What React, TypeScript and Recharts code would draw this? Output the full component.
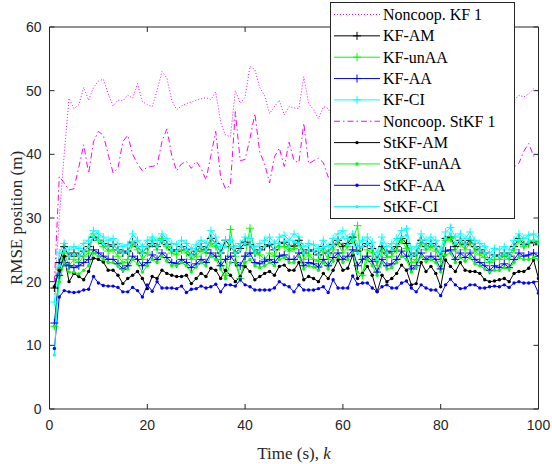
import { LineChart, Line, XAxis, YAxis, Legend } from "recharts";

// time steps k = 1..100
const steps = Array.from({ length: 100 }, (_, i) => i + 1);
const xTicks = [0, 20, 40, 60, 80, 100];
const yTicks = [0, 10, 20, 30, 40, 50, 60];

const noncoopKF = [
  18, 30, 40, 48.8, 47.2, 47.8, 50.5, 48.5, 50.5, 51.5,
  51.8, 49.5, 47.6, 48.5, 48.4, 49.3, 48.8, 51.1, 48.3, 47.8,
  47.5, 50, 53, 52, 48.5, 47, 47.6, 48, 48.2, 48.5,
  48.7, 48.9, 48.6, 49.8, 45, 43, 42.8, 50, 48, 49,
  53.8, 53.3, 50.5, 49.2, 46.4, 47.5, 48.5, 46.2, 47.5, 47.3,
  47.2, 52.2, 48, 47, 45.6, 47.5, 47.2, 45.5, 48, 47,
  50.5, 52, 49, 48, 47.5, 49, 48.5, 47, 49.5, 50.5,
  48, 47.5, 49, 51, 48.5, 47, 48.5, 50, 48.5, 47.5,
  49, 52, 50, 48, 47.5, 49, 48, 46.5, 48.5, 50,
  49, 47.5, 48.5, 50, 48.5, 49.3, 49, 49.5, 50.3, 49.8,
];
const kfAM = [
  19, 23, 25.5, 24, 24.5, 24, 24.8, 25.5, 27, 26.5,
  26, 25.5, 25.8, 25, 24.5, 24.8, 26.2, 25.5, 24.5, 25.5,
  26, 25.5, 26.5, 25.8, 25, 24.8, 25.5, 25, 24.2, 24.8,
  25.5, 25, 26.8, 26, 24.5, 26.5, 25.5, 24.5, 25.2, 26.2,
  25.8, 24.5, 25, 25.5, 25.8, 25, 26, 26.2, 25.5, 25.6,
  26.5, 24.5, 25, 24.8, 24.2, 25.5, 24.5, 25.8, 26.5, 25.5,
  26, 27, 24.8, 25.5, 26, 25.2, 23.5, 25.5, 24.5, 24.8,
  25.5, 26.8, 26, 24, 24.5, 26.5, 25.5, 26, 25.5, 24,
  26.8, 27, 25.5, 26.5, 25.8, 26.5, 25.5, 25, 24.5, 23.5,
  24.2, 24, 24.5, 24, 25.5, 26.8, 25.8, 26, 26.2, 25.8,
];
const kfUnAA = [
  13, 22, 24.5, 22.5, 23.5, 23, 24, 24.5, 27.5, 26.5,
  25.5, 24.8, 25, 24, 23, 23.5, 26, 25, 23.5, 24.5,
  26.5, 25, 26.8, 25.5, 24.5, 24.2, 25, 24.5, 23.5, 24,
  24.8, 24.5, 26, 25.5, 23.5, 21, 28.2, 24, 20.5, 24,
  28.4, 24.5, 24.2, 23.5, 24.5, 24, 25.5, 25.5, 24.8, 25.2,
  26, 23.5, 24.2, 23.5, 23.2, 24.8, 23.5, 25, 26, 24.5,
  25.5, 26.5, 28.8, 21, 25, 24.5, 22.5, 24.8, 23.8, 24,
  25, 26.5, 25.2, 23, 23.5, 26, 25, 25.5, 24.8, 23.2,
  26.5, 26.8, 24.8, 26, 25, 26, 24.8, 24.2, 23.8, 23,
  23.5, 23.5, 24, 23.5, 25, 26.5, 25.5, 26, 26.5, 26.2,
];
const kfAA = [
  13.5, 21, 23, 22.5, 22.2, 22.5, 23, 23.5, 25, 24.5,
  24, 23.5, 23.5, 22.8, 22, 22.5, 24, 23.5, 22.5, 23,
  24.2, 23.5, 24.5, 23.8, 23, 22.8, 23.5, 23, 22.2, 22.8,
  23.5, 23, 24.5, 24, 22.5, 23.5, 24, 23, 22.5, 24,
  24.5, 23, 22.8, 23.2, 23.5, 23, 24, 24.2, 23.5, 23.5,
  24.5, 22.5, 23, 22.8, 22.3, 23.5, 22.5, 23.8, 24.5, 23.5,
  24, 25, 22.5, 23.5, 24, 23.2, 21.5, 23.5, 22.5, 22.8,
  23.5, 24.8, 24, 22, 22.5, 24.5, 23.5, 24, 23.5, 22,
  24.8, 25, 23.5, 24.5, 23.8, 24.5, 23.5, 23, 22.5, 21.8,
  22.5, 22.2, 22.8, 22.2, 23.5, 24.5, 24, 24.2, 24.5, 24,
];
const kfCI = [
  16.8, 24.5, 26, 25, 25.5, 25.2, 26, 26.5, 28, 27.5,
  27, 26.5, 26.8, 26, 25.5, 25.8, 27.5, 26.5, 25.5, 26.5,
  27, 26.5, 27.5, 26.8, 26, 25.8, 26.5, 26, 25.2, 25.8,
  26.5, 26, 28, 27, 25.5, 26.5, 26.5, 25.5, 26, 27,
  26.8, 25.5, 26, 26.5, 27, 26, 27, 27.3, 26.5, 27.5,
  27, 25.5, 26, 25.8, 25.2, 26.5, 25.5, 26.8, 27.5, 28,
  26.8, 27.5, 25.5, 26.5, 27, 26.2, 24.5, 27, 25.5, 26,
  26.8, 28, 28.3, 25, 25.5, 27.5, 26.5, 27, 26.5, 25,
  27.8, 28.5, 27, 27.5, 26.8, 27.8, 26.5, 26, 25.5, 24.5,
  25.2, 25, 25.5, 25, 26.5, 27.5, 26.8, 27.3, 27.5, 27,
];
const noncoopStKF = [
  20, 36.5, 35.5, 34.4, 34.6, 38, 41.5, 37, 42, 43.6,
  43, 40, 37.1, 37.8, 42, 43, 40, 38.5, 37.4, 38,
  38.1, 38.3, 42, 44, 39.8, 37.4, 38.5, 38.9, 37.8, 38.9,
  37.8, 36, 39.8, 43.6, 36.4, 34.6, 35.2, 46.7, 39, 39.2,
  42.5, 46.4, 40.3, 38.5, 35.5, 39.6, 41, 38.1, 41.9, 39,
  38.7, 44.9, 38.5, 39, 39.4, 38.7, 36.4, 37, 41, 39,
  37, 36, 38, 43, 40, 38.5, 37, 39, 41, 38,
  36.5, 39, 42, 39.5, 38, 37, 39, 41.5, 38.5, 37.5,
  40, 43, 39, 37, 38.5, 40, 38, 36.5, 39, 41,
  38.5, 37.5, 39, 40.5, 38, 38.6, 40.5, 41.7, 39.7, 40,
];
const stkfAM = [
  19.2, 21.8, 24, 20, 21.3, 20.8, 20.3, 21.6, 23.7, 23.5,
  23.1, 21.8, 21.8, 21, 19.7, 20.5, 21, 21.6, 20.5, 18.9,
  20.8, 20.5, 21.8, 21.3, 21, 20.8, 20.8, 21, 19.7, 20.5,
  21.3, 20.8, 22.1, 21.8, 20.5, 21.8, 21, 20, 20.8, 22.4,
  21.6, 20.3, 20.8, 21.3, 21.6, 21, 22.4, 22.6, 21.8, 21.8,
  23, 20.3, 20.8, 20.5, 20, 21.3, 20.5, 21.8, 23.4, 21.8,
  22.1, 24.2, 20.5, 21.3, 22.4, 21, 18.4, 21, 20, 20.5,
  21.3, 22.6, 21.8, 19.5, 19.7, 23, 21.6, 22.4, 21.3, 19.2,
  23.4, 22.4, 21.6, 23, 21.8, 21.6, 21.6, 21.3, 20.3, 20,
  20.1, 20.3, 20.5, 20, 21.3, 21.6, 21.6, 22.1, 23.4, 20.5,
];
const stkfUnAA = [
  13, 20, 23, 21.5, 21.5, 21.2, 21.8, 22.5, 24.5, 24,
  23.5, 23, 23, 22.5, 21.8, 22, 23.5, 22.8, 21.5, 22.5,
  23.5, 23, 24, 23.2, 22.5, 22.5, 23, 22.5, 21.5, 22.3,
  23, 22.5, 24, 23.5, 22, 20.5, 23, 23, 20.5, 23,
  23.5, 22.5, 22.2, 22.5, 23, 22.5, 23.5, 23.8, 23, 23,
  24, 22, 22.5, 22.3, 21.8, 23, 22, 23.2, 24, 23,
  23.5, 24.5, 21.5, 21, 23.5, 22.5, 21, 23, 22, 22.2,
  23, 24, 23.5, 21.5, 22.3, 24, 23.2, 23.5, 23, 21.5,
  24.2, 24.5, 23, 23.8, 23.2, 23.8, 22.8, 22.5, 22, 21.5,
  21.8, 21.8, 22.2, 22, 23, 23.8, 23.5, 23.5, 23.8, 23.5,
];
const stkfAA = [
  9.5, 17.6, 18.6, 18.4, 18.3, 18.4, 18.7, 18.8, 20.8, 19.8,
  19.4, 19.3, 19.3, 19.1, 18.4, 18.4, 19.1, 18.6, 17.6, 19.5,
  18.5, 20, 19, 19, 19, 18.9, 19.3, 18.3, 18.8, 18.9,
  19.3, 19, 19.2, 19.6, 18.4, 19.5, 19.5, 19.3, 20.3, 19.5,
  19.2, 18.7, 18.7, 18.7, 18.7, 19, 20, 19.5, 19.2, 18.4,
  19.5, 18.7, 18.7, 18.7, 18.9, 19.2, 18.3, 20.3, 19, 19,
  19, 20.9, 19.6, 19.8, 19.8, 19, 18.5, 19.2, 19.5, 19,
  19, 19.8, 20.1, 19, 18.4, 19.5, 19, 18.7, 18.7, 17.8,
  19.5, 20.4, 19.5, 18.9, 19, 19.5, 19.5, 19, 19, 19.2,
  19.3, 19.2, 19.5, 19.1, 19.8, 20, 19.8, 19.8, 19.9, 18.2,
];
const stkfCI = [
  8.5, 22.5, 25, 24, 24.3, 24, 24.8, 25.5, 27, 26.5,
  26, 25.5, 25.8, 25, 24.5, 24.8, 26.2, 25.5, 24.5, 25.5,
  26, 25.5, 26.5, 25.8, 25, 24.8, 25.5, 25, 24.2, 24.8,
  25.5, 25, 26.8, 26, 24.5, 25.5, 25.5, 24.5, 25, 26,
  25.8, 24.5, 25, 25.5, 26, 25, 26, 26.3, 25.5, 26.3,
  26, 24.5, 25, 24.8, 24.2, 25.5, 24.5, 25.8, 26.5, 27,
  25.8, 26.5, 24.5, 25.5, 26, 25.2, 23.5, 26, 24.5, 25,
  25.8, 27, 27.3, 24, 24.5, 26.5, 25.5, 26, 25.5, 24,
  26.8, 27.5, 26, 26.5, 25.8, 26.8, 25.5, 25, 24.5, 23.5,
  24.2, 24, 24.5, 24, 25.5, 26.5, 25.8, 26.3, 26.5, 26,
];

type Marker = "plus" | "dot" | "none";
const SERIES: { key: string; name: string; values: number[]; color: string; dash?: string; marker: Marker }[] = [
  { key: "noncoopKF", name: "Noncoop. KF 1", values: noncoopKF, color: "#ff00ff", dash: "1 2", marker: "none" },
  { key: "kfAM", name: "KF-AM", values: kfAM, color: "#000000", marker: "plus" },
  { key: "kfUnAA", name: "KF-unAA", values: kfUnAA, color: "#00ff00", marker: "plus" },
  { key: "kfAA", name: "KF-AA", values: kfAA, color: "#0000ff", marker: "plus" },
  { key: "kfCI", name: "KF-CI", values: kfCI, color: "#00ffff", marker: "plus" },
  { key: "noncoopStKF", name: "Noncoop. StKF 1", values: noncoopStKF, color: "#ff00ff", dash: "6 3 1.5 3", marker: "none" },
  { key: "stkfAM", name: "StKF-AM", values: stkfAM, color: "#000000", marker: "dot" },
  { key: "stkfUnAA", name: "StKF-unAA", values: stkfUnAA, color: "#00ff00", marker: "dot" },
  { key: "stkfAA", name: "StKF-AA", values: stkfAA, color: "#0000ff", marker: "dot" },
  { key: "stkfCI", name: "StKF-CI", values: stkfCI, color: "#00ffff", marker: "dot" },
];

const data = steps.map((k, i) => {
  const row: Record<string, number> = { k };
  SERIES.forEach((s) => (row[s.key] = s.values[i]));
  return row;
});

const AXIS = "#262626";
const SANS = "'Liberation Sans', Arial, sans-serif";
const SERIF = "'Liberation Serif', 'Times New Roman', serif";
const TICK_LEN = 5;

function plusMark(p: any) {
  const { cx, cy, stroke, index } = p;
  if (cx == null || cy == null) return <g key={index} />;
  return <path key={index} d={`M${cx - 4},${cy}h8M${cx},${cy - 4}v8`} stroke={stroke} strokeWidth={1} fill="none" />;
}

function dotMark(p: any) {
  const { cx, cy, stroke, index } = p;
  if (cx == null || cy == null) return <g key={index} />;
  return <circle key={index} cx={cx} cy={cy} r={1.7} fill={stroke} stroke="none" />;
}

function BottomTick(p: any) {
  const { x, y, payload } = p;
  return (
    <g>
      <line x1={x} y1={y} x2={x} y2={y - TICK_LEN} stroke={AXIS} />
      <text x={x} y={y + 21} textAnchor="middle" fontSize={14} fontFamily={SANS} fill={AXIS} stroke="none">
        {payload.value}
      </text>
    </g>
  );
}

function LeftTick(p: any) {
  const { x, y, payload } = p;
  return (
    <g>
      <line x1={x} y1={y} x2={x + TICK_LEN} y2={y} stroke={AXIS} />
      <text x={x - 8} y={y + 5} textAnchor="end" fontSize={14} fontFamily={SANS} fill={AXIS} stroke="none">
        {payload.value}
      </text>
    </g>
  );
}

function TopTick(p: any) {
  const { x, y } = p;
  return <line x1={x} y1={y} x2={x} y2={y + TICK_LEN} stroke={AXIS} />;
}

function RightTick(p: any) {
  const { x, y } = p;
  return <line x1={x} y1={y} x2={x - TICK_LEN} y2={y} stroke={AXIS} />;
}

function LegendBox() {
  const rowH = 21.35;
  return (
    <svg width={185} height={217} style={{ display: "block" }}>
      <rect x={0.5} y={0.5} width={184} height={216} fill="#fff" stroke={AXIS} />
      {SERIES.map((s, i) => {
        const cy = 12.5 + i * rowH;
        return (
          <g key={s.key}>
            <line x1={4} y1={cy} x2={50} y2={cy} stroke={s.color} strokeDasharray={s.dash} strokeWidth={1} />
            {s.marker === "plus" && <path d={`M${23},${cy}h8M${27},${cy - 4}v8`} stroke={s.color} />}
            {s.marker === "dot" && <circle cx={27} cy={cy} r={1.7} fill={s.color} />}
            <text x={53} y={cy + 5.5} fontSize={16} fontFamily={SERIF} fill="#000">
              {s.name}
            </text>
          </g>
        );
      })}
    </svg>
  );
}

const titleStyle: React.CSSProperties = {
  position: "absolute",
  fontFamily: SERIF,
  fontSize: 17,
  color: AXIS,
  whiteSpace: "nowrap",
  textAlign: "center",
  lineHeight: "20px",
  height: 20,
  width: 200,
};

export default function App() {
  return (
    <div style={{ position: "absolute", left: 0, top: 0, width: 552, height: 464, background: "#fff" }}>
      <LineChart width={552} height={464} data={data} margin={{ top: 26, right: 12.5, bottom: 25, left: 9.5 }}>
        <XAxis
          dataKey="k"
          type="number"
          domain={[0, 100]}
          ticks={xTicks}
          interval={0}
          allowDataOverflow
          height={30}
          tickSize={0}
          tickMargin={0}
          tickLine={false}
          axisLine={{ stroke: AXIS }}
          tick={<BottomTick />}
        />
        <XAxis
          xAxisId="top"
          orientation="top"
          dataKey="k"
          type="number"
          domain={[0, 100]}
          ticks={xTicks}
          interval={0}
          allowDataOverflow
          height={1}
          tickSize={0}
          tickMargin={0}
          tickLine={false}
          axisLine={{ stroke: AXIS }}
          tick={<TopTick />}
        />
        <YAxis
          type="number"
          domain={[0, 60]}
          ticks={yTicks}
          interval={0}
          allowDataOverflow
          width={40}
          tickSize={0}
          tickMargin={0}
          tickLine={false}
          axisLine={{ stroke: AXIS }}
          tick={<LeftTick />}
        />
        <YAxis
          yAxisId="right"
          orientation="right"
          type="number"
          domain={[0, 60]}
          ticks={yTicks}
          interval={0}
          allowDataOverflow
          width={1}
          tickSize={0}
          tickMargin={0}
          tickLine={false}
          axisLine={{ stroke: AXIS }}
          tick={<RightTick />}
        />
        {SERIES.map((s) => (
          <Line
            key={s.key}
            dataKey={s.key}
            name={s.name}
            type="linear"
            stroke={s.color}
            strokeWidth={1}
            strokeDasharray={s.dash}
            dot={s.marker === "plus" ? plusMark : s.marker === "dot" ? dotMark : false}
            activeDot={false}
            isAnimationActive={false}
          />
        ))}
        <Legend
          layout="vertical"
          align="center"
          verticalAlign="middle"
          content={<LegendBox />}
          wrapperStyle={{ position: "absolute", top: 2, left: 330, width: 185, height: 217 }}
        />
      </LineChart>
      <div style={{ ...titleStyle, left: 194, top: 444 }}>
        Time (s), <i>k</i>
      </div>
      <div style={{ ...titleStyle, left: -83, top: 208, transform: "rotate(-90deg)" }}>RMSE position (m)</div>
    </div>
  );
}
